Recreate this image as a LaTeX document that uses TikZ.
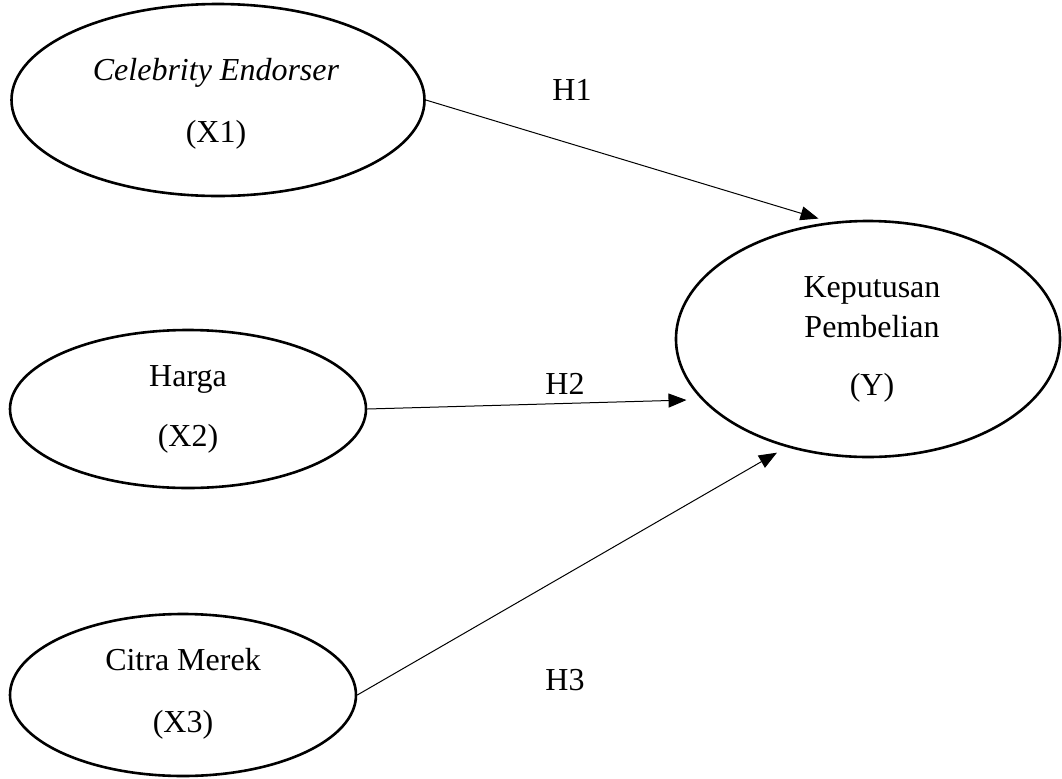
\documentclass[tikz,border=0pt]{standalone}
\usepackage{fontspec}
\setmainfont{Liberation Serif}
\usetikzlibrary{shapes.geometric, arrows.meta}

\begin{document}
\begin{tikzpicture}[x=0.5pt, y=-0.5pt,
    var/.style={draw, ellipse, line width=1.3pt, inner sep=0pt},
    txt/.style={align=center, font=\fontsize{16}{20}\selectfont},
    hyp/.style={-{Triangle[length=9pt, width=7pt]}, line width=0.5pt}]
            \useasboundingbox (0,0) rectangle (1062,778);

            \node[var, minimum width=206.5pt, minimum height=96pt] (X1) at (218,100) {};
            \node[var, minimum width=178pt, minimum height=79pt] (X2) at (188,409) {};
            \node[var, minimum width=173pt, minimum height=81pt] (X3) at (183,695) {};
            \node[var, minimum width=192pt, minimum height=118pt] (Y) at (868,339) {};

            \node[txt] (X1t) at (216,104) {\textit{Celebrity Endorser}\\[11pt](X1)};
            \node[txt] (X2t) at (188,409) {Harga\\[10pt](X2)};
            \node[txt] (X3t) at (183,694) {Citra Merek\\[11pt](X3)};
            \node[txt] (Yt) at (872,339) {Keputusan\\Pembelian\\[9pt](Y)};

            % Draw edges
            \draw[hyp, shorten >=6pt] (X1.east) -- (Y.108);
            \draw[hyp, shorten >=7.5pt] (X2.east) -- (Y.200);
            \draw[hyp, shorten >=5.5pt] (X3.east) -- (Y.233);

            \node[txt] (h1) at (572,90) {H1};
            \node[txt] (h2) at (565,384) {H2};
            \node[txt] (h3) at (565,680) {H3};
        \end{tikzpicture}
\end{document}
